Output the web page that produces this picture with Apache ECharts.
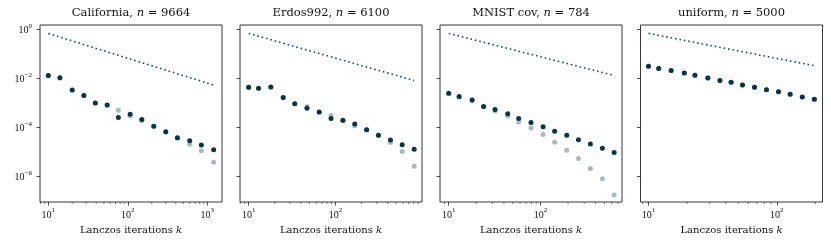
<!DOCTYPE html>
<html>
<head>
<meta charset="utf-8">
<script src="https://cdn.jsdelivr.net/npm/echarts@6/dist/echarts.min.js"></script>
<style>html,body{margin:0;padding:0;background:#fff}#c{width:831px;height:245px}</style>
</head>
<body>
<div id="c"></div>
<script>
// ---------- data ----------
const titles = ['California, {i|n} = 9664', 'Erdos992, {i|n} = 6100', 'MNIST cov, {i|n} = 784', 'uniform, {i|n} = 5000'];
const xLabel = 'Lanczos iterations {i|k}';

const kCal = [10, 14, 20, 28, 39, 55, 76, 107, 150, 212, 300, 420, 600, 840, 1200];
const darkCal = [1.26e-2, 1.02e-2, 3.2e-3, 1.9e-3, 9.5e-4, 7.9e-4, 2.4e-4, 3.3e-4, 2.0e-4, 1.07e-4, 6.3e-5, 3.6e-5, 2.7e-5, 1.8e-5, 1.17e-5];
const lightCal = [1.24e-2, 1.0e-2, 3.15e-3, 1.85e-3, 9.3e-4, 7.7e-4, 4.8e-4, 2.75e-4, 1.8e-4, 1.05e-4, 6.2e-5, 3.5e-5, 1.95e-5, 1.07e-5, 3.6e-6];
const refKCal = [10, 1200];
const refCal = [0.66, 5.1e-3];

const kErd = [10, 13, 18, 25, 34, 47, 65, 89, 122, 167, 229, 313, 431, 588, 809];
const darkErd = [4.2e-3, 3.8e-3, 4.3e-3, 1.6e-3, 8.9e-4, 5.8e-4, 4.1e-4, 2.2e-4, 1.86e-4, 1.32e-4, 7.6e-5, 4.6e-5, 2.9e-5, 1.86e-5, 1.23e-5];
const lightErd = [4.1e-3, 3.7e-3, 4.2e-3, 1.55e-3, 8.6e-4, 6.8e-4, 4.0e-4, 2.9e-4, 1.8e-4, 1.1e-4, 7.4e-5, 4.3e-5, 2.3e-5, 9.8e-6, 2.45e-6];
const refKErd = [10, 809];
const refErd = [0.66, 7.8e-3];

const kMni = [10, 13, 18, 24, 32, 44, 58, 79, 107, 143, 194, 260, 351, 474, 637];
const darkMni = [2.34e-3, 1.74e-3, 1.26e-3, 6.8e-4, 5.1e-4, 3.4e-4, 2.2e-4, 1.5e-4, 1.0e-4, 6.6e-5, 4.6e-5, 3.0e-5, 2.0e-5, 1.35e-5, 8.9e-6];
const lightMni = [2.24e-3, 1.62e-3, 1.17e-3, 6.6e-4, 4.5e-4, 2.75e-4, 1.58e-4, 8.9e-5, 4.9e-5, 2.34e-5, 1.12e-5, 5.1e-6, 2.0e-6, 7.6e-7, 1.66e-7];
const refKMni = [10, 637];
const refMni = [0.66, 1.26e-2];

const kUni = [10, 12, 15, 19, 23, 29, 36, 44, 54, 67, 83, 103, 127, 158, 196];
const darkUni = [3.0e-2, 2.45e-2, 2.0e-2, 1.58e-2, 1.29e-2, 1.0e-2, 7.9e-3, 6.6e-3, 5.1e-3, 4.2e-3, 3.3e-3, 2.7e-3, 2.14e-3, 1.66e-3, 1.35e-3];
const lightUni = [3.0e-2, 2.45e-2, 2.0e-2, 1.58e-2, 1.29e-2, 1.0e-2, 7.9e-3, 6.6e-3, 5.1e-3, 4.2e-3, 3.3e-3, 2.7e-3, 2.14e-3, 1.66e-3, 1.35e-3];
const refKUni = [10, 196];
const refUni = [0.66, 3.16e-2];

// tick values
const yMajor = [1, 1e-2, 1e-4, 1e-6];
const xMajor = [[10, 100, 1000], [10, 100], [10, 100], [10, 100]];
const xMinor = [
  [8, 9, 20, 30, 40, 50, 60, 70, 80, 90, 200, 300, 400, 500, 600, 700, 800, 900],
  [8, 9, 20, 30, 40, 50, 60, 70, 80, 90, 200, 300, 400, 500, 600, 700, 800, 900],
  [9, 20, 30, 40, 50, 60, 70, 80, 90, 200, 300, 400, 500, 600, 700],
  [9, 20, 30, 40, 50, 60, 70, 80, 90, 200]
];

// ---------- layout ----------
const panels = [
  {k: kCal, dark: darkCal, light: lightCal, rk: refKCal, r: refCal, xr: [0.896, 3.184]},
  {k: kErd, dark: darkErd, light: lightErd, rk: refKErd, r: refErd, xr: [0.9, 2.998]},
  {k: kMni, dark: darkMni, light: lightMni, rk: refKMni, r: refMni, xr: [0.905, 2.89]},
  {k: kUni, dark: darkUni, light: lightUni, rk: refKUni, r: refUni, xr: [0.9375, 2.356]}
];
const lefts = [40, 240, 440, 640.5];
const W = 182, TOP = 25, H = 177;
const yr = [-7.07, 0.163];
const FONT = 'Liberation Serif';
const TFONT = 'DejaVu Serif';
const DARK = '#0b3443', LIGHT = '#aab9c1', LINE = '#1d4d5e', AX = '#222';

const L = Math.log10;
const sup = v => { const n = Math.round(v); return '{b|10}{s|' + (n < 0 ? '\u2212' : '') + Math.abs(n) + '}'; };
const tickRich = {
  b: {fontFamily: FONT, fontSize: 10, color: '#111', lineHeight: 13, verticalAlign: 'bottom'},
  s: {fontFamily: FONT, fontSize: 7, color: '#111', lineHeight: 13, verticalAlign: 'top'}
};

const grid = [], xAxis = [], yAxis = [], series = [], title = [];
panels.forEach((p, i) => {
  grid.push({left: lefts[i], top: TOP, width: W, height: H, show: true, borderColor: AX, borderWidth: 0.9, backgroundColor: '#fff', containLabel: false});
  title.push({text: titles[i], left: lefts[i] + W / 2, top: 7, textAlign: 'center', padding: 0,
    textStyle: {fontFamily: TFONT, fontSize: 11.5, fontWeight: 'normal', color: '#111',
      rich: {i: {fontFamily: TFONT, fontSize: 11.5, fontStyle: 'italic', color: '#111'}}}});
  xAxis.push({type: 'value', gridIndex: i, min: p.xr[0], max: p.xr[1], position: 'bottom',
    splitLine: {show: false}, axisLine: {show: false, onZero: false},
    axisTick: {show: true, length: 3.5, lineStyle: {color: AX, width: 0.8}, customValues: xMajor[i].map(L)},
    axisLabel: {show: true, margin: 5, customValues: xMajor[i].map(L), formatter: sup, rich: tickRich},
    name: xLabel, nameLocation: 'middle', nameGap: 21,
    nameTextStyle: {fontFamily: TFONT, fontSize: 10, color: '#111', lineHeight: 12,
      rich: {i: {fontFamily: TFONT, fontSize: 10, fontStyle: 'italic', color: '#111'}}}
  });
  yAxis.push({type: 'value', gridIndex: i, min: yr[0], max: yr[1], position: 'left',
    splitLine: {show: false}, axisLine: {show: false, onZero: false},
    axisTick: {show: true, length: 3.5, lineStyle: {color: AX, width: 0.8}, customValues: yMajor.map(L)},
    axisLabel: {show: i === 0, margin: 8, customValues: yMajor.map(L), formatter: sup, rich: tickRich}
  });
  // minor x ticks, drawn below the bottom axis line through the axis scale
  series.push({type: 'custom', xAxisIndex: i, yAxisIndex: i, silent: true, clip: false, z: 1,
    data: xMinor[i].map(v => [L(v)]),
    renderItem: (params, api) => {
      const pt = api.coord([api.value(0), yr[0]]);
      return {type: 'line', shape: {x1: pt[0], y1: pt[1], x2: pt[0], y2: pt[1] + 2},
        style: {stroke: AX, lineWidth: 0.6}};
    }});
  series.push({type: 'line', xAxisIndex: i, yAxisIndex: i, symbol: 'none', silent: true,
    data: p.rk.map((k, j) => [L(k), L(p.r[j])]),
    lineStyle: {color: LINE, width: 1.6, type: [1.6, 2.9]}, z: 2});
  series.push({type: 'scatter', xAxisIndex: i, yAxisIndex: i, symbolSize: 5, silent: true,
    data: p.k.map((k, j) => [L(k), L(p.light[j])]), itemStyle: {color: LIGHT, opacity: 1}, z: 3});
  series.push({type: 'scatter', xAxisIndex: i, yAxisIndex: i, symbolSize: 5, silent: true,
    data: p.k.map((k, j) => [L(k), L(p.dark[j])]), itemStyle: {color: DARK, opacity: 1}, z: 4});
});

const chart = echarts.init(document.getElementById('c'), null, {renderer: 'canvas'});
chart.setOption({animation: false, backgroundColor: '#fff', title, grid, xAxis, yAxis, series});
</script>
</body>
</html>
